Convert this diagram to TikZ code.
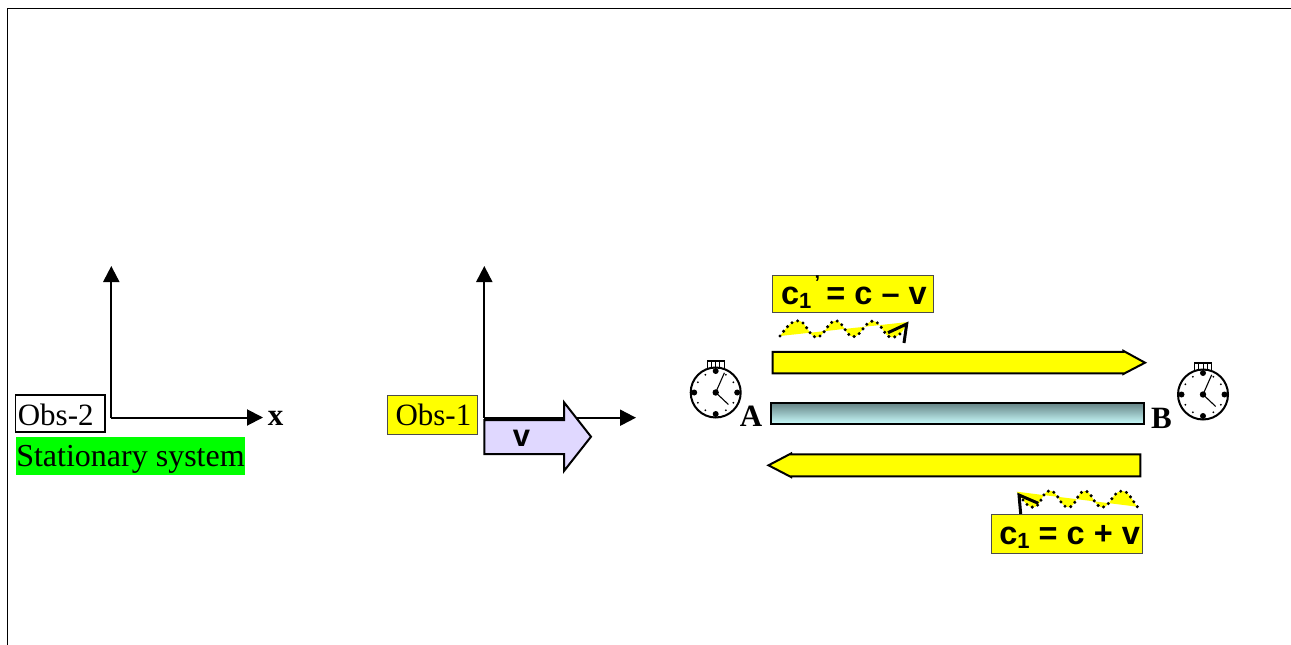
\documentclass[tikz,border=0pt]{standalone}
\usepackage{fontspec}
\setmainfont{Liberation Serif}
\newfontfamily\arialfam{Liberation Sans}
\usetikzlibrary{arrows.meta,calc}
\definecolor{wavey}{RGB}{255,255,0}
\definecolor{vfill}{RGB}{224,216,255}
\definecolor{rodtop}{RGB}{100,130,132}
\definecolor{rodbot}{RGB}{204,255,255}
\definecolor{greenbox}{RGB}{0,255,0}
\newcommand{\lowered}[2]{\raisebox{-#1pt}[5pt][5pt]{#2}}
\newcommand{\boxnode}[7]{% name, x0,y0,x1,y1, style, text
  \node[#6,minimum width={(#4-#2)*1pt},minimum height={(#5-#3)*1pt}] (#1) at ({(#2+#4)/2},{(#3+#5)/2}) {#7};}
\newcommand{\stopclock}[3]{% name, x, y
  \begin{scope}[shift={(#2,#3)}]
    \draw[line width=1.1pt,fill=white] (-8.5,-31.5) rectangle (8.5,-24);
    \foreach \kx in {-4.2,0,4.2} \draw[line width=0.9pt] (\kx,-31.5) -- (\kx,-24);
    \node[circle,draw,line width=2pt,fill=white,minimum size=50pt,inner sep=0pt] (#1) at (0,0) {};
    \foreach \a in {0,90,180,270} \fill (\a:21.5) circle (3);
    \foreach \a in {30,60,120,150,210,240,300,330} \fill (\a:20.5) circle (1);
    \draw[line width=1.1pt] (0,0) -- (8.7,-19.7);
    \draw[line width=1.1pt] (0,0) -- (12.7,12);
    \fill (0,0) circle (3.2);
  \end{scope}}
\tikzset{
  x=1pt,y=-1pt,
  axisline/.style={line width=2pt,-{Triangle[length=16pt,width=16pt]}},
  yellowbox/.style={draw=black!70,line width=1pt,fill=wavey,inner sep=0pt,font=\fontsize{31}{32}\selectfont},
  whitebox/.style={draw=black,line width=1.8pt,fill=white,inner sep=0pt,font=\fontsize{31}{32}\selectfont},
  greenlabel/.style={fill=greenbox,inner sep=0pt,font=\fontsize{32}{33}\selectfont},
  formulabox/.style={draw=black!70,line width=1pt,fill=wavey,inner sep=0pt,font=\arialfam\bfseries\fontsize{32.5}{34}\selectfont},
  boldlabel/.style={inner sep=0pt,font=\bfseries\fontsize{31}{32}\selectfont},
  bararrow/.style={draw=black,line width=2pt,fill=wavey,line join=miter},
  waveline/.style={line width=3.4pt,dash pattern=on 0pt off 6pt,line cap=round},
  wavetip/.style={line width=3pt},
}
\begin{document}
\begin{tikzpicture}
\useasboundingbox (0,0) rectangle (1291,645);
% frame
\draw[line width=1pt] (7.5,645) -- (7.5,8) -- (1291,8);

% left axes
\coordinate (o2) at (111.3,417.5);
\coordinate (y2) at (111.3,266);
\coordinate (x2) at (263,417.5);
\draw[axisline] (o2) -- (y2);
\draw[axisline] (o2) -- (x2);
\boxnode{obstwo}{15.5}{395}{105}{432}{whitebox}{\lowered{11.5}{\hspace{-9pt}Obs-2}}
\boxnode{stat}{16}{437}{245}{475}{greenlabel}{\lowered{10}{Stationary system}}
\node[boldlabel] (xlabel) at (275.5,418) {x};

% moving axes
\coordinate (o1) at (484.3,417.7);
\coordinate (y1) at (484.3,266);
\coordinate (x1) at (636,417.7);
\draw[axisline] (o1) -- (y1);
\draw[axisline] (o1) -- (x1);
\boxnode{obsone}{387.5}{395}{477.3}{434}{yellowbox}{\lowered{10.5}{\hspace{2pt}Obs-1}}
\draw[line width=2pt,fill=vfill,line join=miter] (484.3,420) -- (564,420) -- (564,402.3) -- (591,436.7) -- (564,471) -- (564,454) -- (484.3,454) -- cycle;
\node[inner sep=0pt,font=\arialfam\bfseries\fontsize{31}{32}\selectfont] (vlabel) at (521.5,438) {v};

% clocks
\stopclock{clockA}{715.7}{392.5}
\stopclock{clockB}{1203}{394.5}

% rod
\path[top color=rodtop,bottom color=rodbot,draw=black,line width=2pt] (770.8,402.8) rectangle (1144.3,424.3);
\node[boldlabel] (alabel) at (751,416) {A};
\node[boldlabel] (blabel) at (1161.5,418) {B};

% upper bar arrow
\draw[bararrow] (772.6,351.8) -- (1123.3,351.8) -- (1123.3,350.8) -- (1145,362.7) -- (1123.3,374) -- (1123.3,373.4) -- (772.6,373.4) -- cycle;
% lower bar arrow
\draw[bararrow] (1140.3,454.3) -- (791,454.3) -- (791,453.5) -- (768.5,465.3) -- (791,477) -- (791,476.3) -- (1140.3,476.3) -- cycle;

% upper wave
\def\wavetop{(780,336) .. controls (786,328) and (791,320.7) .. (798.3,320.7) .. controls (806,320.7) and (809,337.3) .. (816.7,337.3) .. controls (824,337.3) and (828,320.7) .. (835.7,320.7) .. controls (843,320.7) and (846,336.7) .. (853.3,336.7) .. controls (861,336.7) and (865,321) .. (873,321) .. controls (881,321) and (884,337.3) .. (891.7,337.3) .. controls (896,337.3) and (899,335) .. (902,332)}
\fill[wavey] \wavetop -- (908,322) -- cycle;
\draw[waveline] \wavetop;
\coordinate (ta) at (888,332.7);
\coordinate (tb) at (906.7,324);
\coordinate (tc) at (904,343);
\draw[wavetip,line join=miter] (ta) -- (tb) -- (tc);

% lower wave
\def\wavebot{(1137.3,506.7) .. controls (1131,499) and (1129,491) .. (1121.7,491) .. controls (1113,491) and (1110,507.3) .. (1102.3,507.3) .. controls (1094,507.3) and (1092,491) .. (1085,491) .. controls (1077,491) and (1076,507.3) .. (1068.3,507.3) .. controls (1060,507.3) and (1058,490.7) .. (1050,490.7) .. controls (1042,490.7) and (1041,507.3) .. (1033.3,507.3) .. controls (1029,507.3) and (1026,504) .. (1023,500)}
\fill[wavey] \wavebot -- (1016.7,491.7) -- cycle;
\draw[waveline] \wavebot;
\coordinate (ba) at (1038.3,503.3);
\coordinate (bb) at (1019,495);
\coordinate (bc) at (1020.7,514);
\draw[wavetip,line join=miter] (ba) -- (bb) -- (bc);

% formula boxes
\boxnode{ctop}{772.5}{275}{933.3}{312.7}{formulabox}{\lowered{11}{\hspace{2pt}c{\fontsize{22}{22}\selectfont\raisebox{-4pt}{1}}\rlap{\fontsize{20}{20}\selectfont\raisebox{15pt}{\,’}}\hspace{6pt} = c – v}}
\boxnode{cbot}{991}{514.7}{1142.3}{553.3}{formulabox}{\lowered{10}{\hspace{6pt}c{\fontsize{22}{22}\selectfont\raisebox{-4pt}{1}} = c + v}}
\end{tikzpicture}
\end{document}
